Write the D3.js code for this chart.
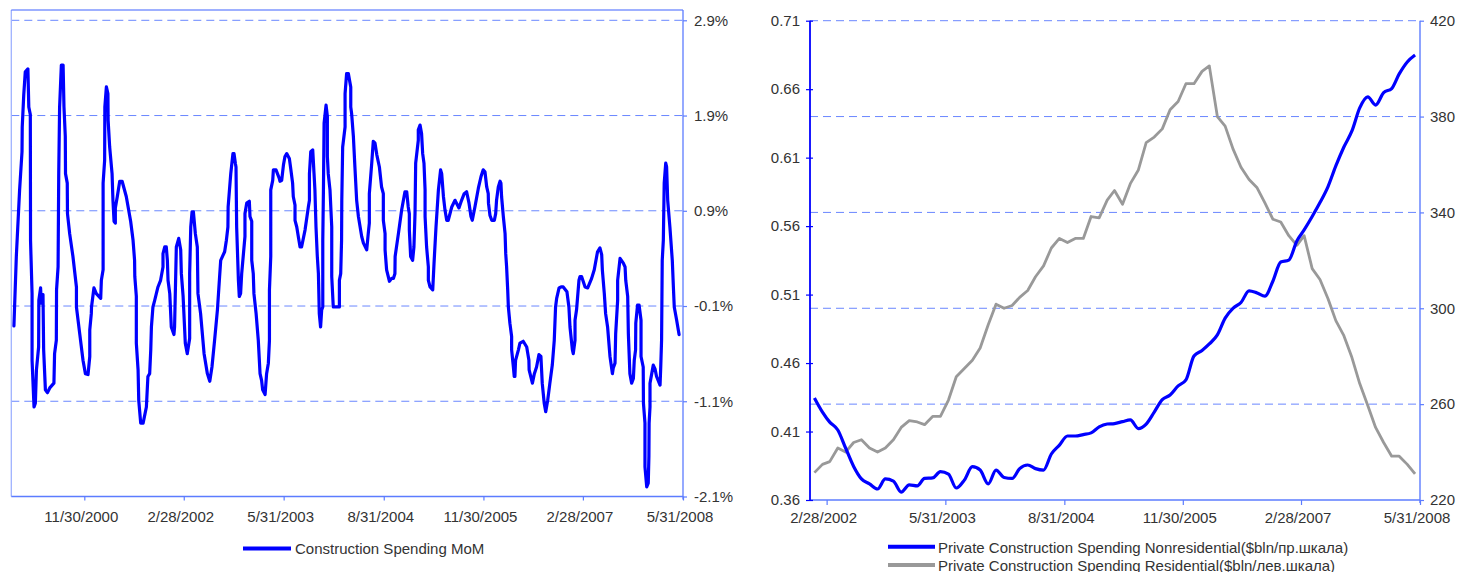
<!DOCTYPE html>
<html><head><meta charset="utf-8">
<script src="https://cdn.jsdelivr.net/npm/d3@7"></script>
<style>
body{margin:0;background:#fff}
svg{display:block}
text{font-family:"Liberation Sans",Arial,sans-serif;fill:#333;font-size:15px}
</style>
</head><body>
<svg id="c" width="1459" height="572"></svg>
<script>
// ---------- Left chart: Construction Spending MoM (%) ----------
const momStart = "2000-01-01";            // day 0 of the series
const momDays = [12,23,38,49,50,57,64,76,80,87,88,95,95,104,110,115,125,126,134,137,145,148,156,165,176,195,198,206,207,214,217,221,229,237,241,247,248,256,257,267,282,298,298,313,328,339,351,359,359,366,367,378,389,409,412,420,420,427,428,435,442,443,450,461,465,470,476,476,485,496,507,526,546,557,564,565,572,572,580,583,592,603,618,625,633,638,641,648,656,671,683,694,694,702,709,714,717,725,732,744,747,755,766,775,778,786,796,805,816,816,821,827,833,842,851,854,866,882,897,908,918,930,943,953,958,976,984,991,992,1004,1014,1019,1025,1028,1031,1039,1043,1049,1054,1069,1069,1077,1089,1092,1100,1100,1107,1110,1120,1130,1138,1145,1150,1161,1168,1176,1181,1181,1187,1187,1196,1199,1211,1226,1229,1237,1245,1252,1260,1272,1278,1287,1290,1298,1298,1306,1313,1321,1328,1344,1359,1364,1364,1370,1379,1385,1389,1394,1400,1405,1409,1415,1420,1425,1425,1428,1431,1440,1446,1446,1450,1458,1466,1466,1473,1501,1501,1507,1511,1512,1516,1527,1527,1534,1542,1553,1553,1557,1565,1572,1580,1588,1603,1611,1626,1633,1638,1638,1649,1656,1664,1672,1684,1694,1702,1702,1710,1710,1717,1730,1740,1748,1755,1756,1771,1786,1797,1801,1809,1816,1821,1821,1827,1836,1842,1847,1850,1862,1862,1870,1877,1882,1888,1893,1893,1900,1908,1908,1916,1928,1934,1943,1954,1964,1969,1977,1984,1992,1999,2015,2030,2037,2048,2060,2072,2083,2094,2103,2109,2121,2137,2149,2159,2167,2175,2182,2183,2190,2198,2210,2216,2220,2228,2236,2240,2243,2251,2259,2262,2266,2271,2274,2281,2289,2289,2297,2301,2304,2307,2320,2327,2342,2358,2368,2369,2384,2393,2403,2414,2423,2429,2438,2445,2454,2464,2475,2484,2490,2495,2506,2515,2525,2542,2551,2556,2567,2571,2579,2579,2586,2597,2602,2609,2625,2637,2655,2667,2678,2682,2693,2701,2704,2713,2719,2728,2739,2750,2754,2762,2765,2774,2774,2785,2800,2808,2811,2820,2823,2830,2838,2846,2850,2856,2857,2865,2872,2881,2881,2891,2892,2899,2899,2907,2914,2917,2918,2922,2922,2930,2937,2945,2952,2968,2971,2975,2978,2983,2987,2994,2998,3003,3013,3024,3029,3033,3044,3055];
const momValues = [-0.31,0.42,1.12,1.52,1.78,2.12,2.36,2.39,1.99,1.91,0.59,0.03,-0.67,-1.16,-1.12,-0.77,-0.53,-0.04,0.09,-0.07,0.02,-0.56,-0.98,-1.01,-0.96,-0.91,-0.60,-0.46,0.07,0.31,1.29,1.99,2.43,2.43,1.99,1.68,1.29,1.19,0.87,0.66,0.42,0.10,-0.11,-0.39,-0.67,-0.81,-0.82,-0.63,-0.35,-0.18,-0.11,0.09,0.03,-0.02,0.17,0.28,1.19,1.43,1.99,2.20,2.13,1.85,1.57,1.29,1.01,0.79,0.77,0.93,1.05,1.21,1.21,1.05,0.79,0.59,0.38,0.21,0.00,-0.49,-0.77,-1.09,-1.33,-1.33,-1.16,-0.84,-0.81,-0.56,-0.32,-0.11,-0.04,0.10,0.17,0.31,0.45,0.52,0.52,0.38,0.17,0.03,-0.32,-0.40,-0.32,0.52,0.61,0.49,0.24,0.00,-0.49,-0.60,-0.44,0.24,0.73,0.89,0.89,0.66,0.52,0.03,-0.18,-0.60,-0.81,-0.89,-0.74,-0.46,-0.14,0.21,0.38,0.47,0.59,0.73,0.94,1.29,1.50,1.50,1.40,1.36,0.73,0.17,0.00,0.03,0.24,0.63,0.87,0.98,1.00,0.84,0.79,0.38,0.24,0.03,-0.18,-0.46,-0.81,-0.88,-0.98,-1.03,-0.81,-0.70,-0.46,0.07,0.42,1.12,1.22,1.33,1.33,1.24,1.21,1.22,1.38,1.47,1.50,1.45,1.35,1.19,1.05,0.96,0.80,0.73,0.63,0.52,0.52,0.70,0.94,1.01,1.29,1.52,1.54,1.29,1.12,0.73,0.42,0.24,-0.18,-0.32,-0.14,-0.11,0.59,1.12,1.82,2.01,1.89,1.47,1.29,1.12,0.73,0.21,-0.11,-0.11,0.17,0.24,0.59,1.01,1.57,1.78,2.13,2.34,2.34,2.20,1.99,1.92,1.68,1.36,1.01,0.84,0.63,0.56,0.49,0.66,0.77,1.08,1.40,1.63,1.61,1.49,1.36,1.15,1.08,0.80,0.66,0.49,0.28,0.16,0.19,0.19,0.24,0.42,0.66,0.91,1.05,1.10,1.10,0.94,0.87,0.70,0.42,0.38,0.52,0.87,1.40,1.64,1.75,1.80,1.71,1.50,1.40,1.12,0.84,0.52,0.31,0.17,0.10,0.07,0.35,0.73,1.12,1.33,1.29,1.05,0.91,0.80,0.80,0.94,1.01,0.98,0.93,1.01,1.08,1.10,0.98,0.84,0.80,0.94,1.14,1.26,1.33,1.31,1.15,1.08,0.98,0.85,0.80,0.80,0.87,1.01,1.15,1.21,1.19,1.05,0.84,0.66,0.45,0.31,0.07,-0.11,-0.28,-0.42,-0.56,-0.74,-0.84,-0.84,-0.67,-0.56,-0.49,-0.47,-0.53,-0.67,-0.77,-0.91,-0.81,-0.74,-0.61,-0.63,-0.91,-1.12,-1.21,-1.09,-0.91,-0.72,-0.46,-0.11,-0.02,0.09,0.10,0.10,0.05,-0.11,-0.32,-0.56,-0.60,-0.46,-0.25,-0.14,0.17,0.21,0.21,0.10,0.09,0.19,0.28,0.42,0.47,0.51,0.44,0.28,0.03,-0.18,-0.32,-0.63,-0.81,-0.75,-0.70,-0.39,-0.04,0.17,0.40,0.35,0.31,0.17,0.00,-0.39,-0.81,-0.91,-0.86,-0.67,-0.56,-0.28,-0.09,-0.09,-0.25,-0.63,-0.74,-1.12,-1.33,-1.79,-2.00,-1.96,-1.68,-1.33,-1.16,-0.91,-0.81,-0.72,-0.76,-0.84,-0.93,-0.75,-0.46,0.38,0.59,1.19,1.40,1.36,1.01,0.73,0.38,0.10,-0.11,-0.25,-0.40];
const leftDomain = ["2000-01-01","2008-05-31"];
const leftXTicks = ["2000-11-30","2002-02-28","2003-05-31","2004-08-31","2005-11-30","2007-02-28","2008-05-31"];
const leftYTicks = [2.9,1.9,0.9,-0.1,-1.1,-2.1];
const leftLegend = "Construction Spending MoM";

// ---------- Right chart: Private construction spending ----------
const rightFirstMonth = "2002-01-12";
const nonresidential = [262.6,256.7,252.5,249.2,241.7,234.0,228.8,226.7,224.6,228.8,227.9,223.3,226.3,225.9,229.0,229.2,231.8,230.8,225.0,228.3,233.9,232.5,226.7,232.5,229.4,229.0,233.1,234.6,233.1,232.5,239.2,242.9,246.7,246.7,247.3,248.0,250.5,251.7,251.9,252.7,253.4,249.8,251.7,256.7,261.9,263.8,267.6,270.1,280.1,282.4,285.1,288.9,295.9,300.1,302.4,307.3,306.4,305.1,311.4,319.3,320.1,328.1,332.7,338.3,344.1,350.8,359.4,367.3,374.0,383.6,388.2,384.8,390.0,391.7,397.8,402.8,405.7];
const residential = [0.380,0.386,0.388,0.398,0.395,0.402,0.404,0.398,0.395,0.398,0.404,0.413,0.418,0.417,0.415,0.421,0.421,0.433,0.450,0.456,0.462,0.471,0.488,0.503,0.500,0.502,0.508,0.513,0.523,0.531,0.544,0.551,0.548,0.551,0.551,0.567,0.566,0.579,0.586,0.576,0.591,0.601,0.621,0.625,0.631,0.645,0.651,0.664,0.664,0.673,0.677,0.640,0.633,0.616,0.603,0.594,0.588,0.577,0.565,0.563,0.553,0.546,0.553,0.529,0.521,0.507,0.491,0.480,0.464,0.445,0.429,0.413,0.402,0.392,0.392,0.386,0.379];
const rightDomain = ["2001-12-26","2008-05-31"];
const rightXTicks = ["2002-02-28","2003-05-31","2004-08-31","2005-11-30","2007-02-28","2008-05-31"];
const rightLeftTicks = [0.36,0.41,0.46,0.51,0.56,0.61,0.66,0.71];
const rightRightTicks = [220,260,300,340,380,420];
const rightLegend = ["Private Construction Spending Nonresidential($bln/пр.шкала)","Private Construction Spending Residential($bln/лев.шкала)"];

// ---------- drawing ----------
const parse = d3.timeParse("%Y-%m-%d");
const fmtDate = d => `${d.getMonth()+1}/${d.getDate()}/${d.getFullYear()}`;
const svg = d3.select("#c");
const GRID = "#6a87ff", AXIS = "#5c7cff", BLUE = "#0000ff", GREY = "#999999";

function grid(g, x0, x1, ys){
  g.selectAll(null).data(ys).join("line")
    .attr("x1", x0).attr("x2", x1).attr("y1", d=>d).attr("y2", d=>d)
    .attr("stroke", GRID).attr("stroke-width", 1).attr("stroke-dasharray", "8,5");
}
function styleAxis(g, color){
  g.select(".domain").remove();
  g.selectAll(".tick line").attr("stroke", color).attr("stroke-width", 1.2);
  g.selectAll(".tick text").attr("fill", "#333").style("font-size","15px")
    .attr("font-family", null);
}

// Left chart
{
  const L = {l:11.3, r:683, t:20.3, b:496.5, frameTop:10};
  const start = parse(momStart);
  const x = d3.scaleTime().domain(leftDomain.map(parse)).range([L.l, L.r]);
  const y = d3.scaleLinear().domain([-2.1, 2.9]).range([L.b, L.t]);
  const g = svg.append("g");
  grid(g, L.l, L.r, leftYTicks.filter(v => v > -2.1).map(y));
  // frame
  g.append("line").attr("x1",L.l).attr("x2",L.l).attr("y1",L.frameTop).attr("y2",L.b).attr("stroke","#9fb2ff").attr("stroke-width",1.3);
  g.append("line").attr("x1",L.l).attr("x2",L.r).attr("y1",L.frameTop).attr("y2",L.frameTop).attr("stroke","#3f63ff").attr("stroke-width",1.2);
  g.append("line").attr("x1",L.r).attr("x2",L.r).attr("y1",L.frameTop).attr("y2",L.b+3).attr("stroke",AXIS).attr("stroke-width",1.3);
  g.append("line").attr("x1",L.l).attr("x2",L.r).attr("y1",L.b).attr("y2",L.b).attr("stroke",AXIS).attr("stroke-width",1.3);

  const ay = g.append("g").attr("transform",`translate(${L.r},0)`)
    .call(d3.axisRight(y).tickValues(leftYTicks).tickSize(4).tickPadding(7).tickFormat(d => d.toFixed(1) + "%"));
  styleAxis(ay, AXIS);
  const ax = g.append("g").attr("transform",`translate(0,${L.b})`)
    .call(d3.axisBottom(x).tickValues(leftXTicks.map(parse)).tickSize(4).tickPadding(11).tickFormat(fmtDate));
  styleAxis(ax, AXIS);
  ax.selectAll(".tick text").attr("dx", -3.5);

  const pts = momDays.map((d,i) => [new Date(start.getTime() + d*86400000), momValues[i]]);
  g.append("path").datum(pts)
    .attr("d", d3.line().x(d=>x(d[0])).y(d=>y(d[1])))
    .attr("fill","none").attr("stroke",BLUE).attr("stroke-width",3.2)
    .attr("stroke-linejoin","round").attr("stroke-linecap","round");

  // legend
  g.append("line").attr("x1",243).attr("x2",291).attr("y1",548.5).attr("y2",548.5).attr("stroke",BLUE).attr("stroke-width",4);
  g.append("text").attr("x",295).attr("y",553.5).text(leftLegend);
}

// Right chart
{
  const R = {l:810, r:1420, t:20.7, b:500};
  const x = d3.scaleTime().domain(rightDomain.map(parse)).range([R.l, R.r]);
  const yL = d3.scaleLinear().domain([0.36, 0.71]).range([R.b, R.t]);
  const yR = d3.scaleLinear().domain([220, 420]).range([R.b, R.t]);
  const months = d3.range(nonresidential.length).map(i => d3.timeMonth.offset(parse(rightFirstMonth), i));
  const g = svg.append("g");
  grid(g, R.l, R.r, rightRightTicks.filter(v => v > 220).map(yR));

  // axes lines
  g.append("line").attr("x1",R.l).attr("x2",R.r).attr("y1",R.b).attr("y2",R.b).attr("stroke",AXIS).attr("stroke-width",1.6);
  g.append("line").attr("x1",R.r).attr("x2",R.r).attr("y1",R.t).attr("y2",R.b+3).attr("stroke",AXIS).attr("stroke-width",1.4);

  const aL = g.append("g").attr("transform",`translate(${R.l},0)`)
    .call(d3.axisLeft(yL).tickValues(rightLeftTicks).tickSize(4).tickPadding(6).tickFormat(d3.format(".2f")));
  styleAxis(aL, BLUE);
  aL.selectAll(".tick line").attr("x2",-4).attr("x1",3);
  g.append("line").attr("x1",R.l).attr("x2",R.l).attr("y1",R.t).attr("y2",R.b).attr("stroke",BLUE).attr("stroke-width",1.8);

  const aR = g.append("g").attr("transform",`translate(${R.r},0)`)
    .call(d3.axisRight(yR).tickValues(rightRightTicks).tickSize(4).tickPadding(6));
  styleAxis(aR, AXIS);

  const aB = g.append("g").attr("transform",`translate(0,${R.b})`)
    .call(d3.axisBottom(x).tickValues(rightXTicks.map(parse)).tickSize(5).tickPadding(7.5).tickFormat(fmtDate));
  styleAxis(aB, AXIS);
  aB.selectAll(".tick text").attr("dx", -3.5);

  g.append("path").datum(residential)
    .attr("d", d3.line().x((d,i)=>x(months[i])).y(d=>yL(d)))
    .attr("fill","none").attr("stroke",GREY).attr("stroke-width",2.8).attr("stroke-linejoin","round");
  g.append("path").datum(nonresidential)
    .attr("d", d3.line().curve(d3.curveMonotoneX).x((d,i)=>x(months[i])).y(d=>yR(d)))
    .attr("fill","none").attr("stroke",BLUE).attr("stroke-width",3.2).attr("stroke-linejoin","round");

  // legend
  const lg = g.append("g");
  [[BLUE,546.7,552.5],[GREY,565,570.5]].forEach((s,i) => {
    lg.append("line").attr("x1",888).attr("x2",935).attr("y1",s[1]).attr("y2",s[1]).attr("stroke",s[0]).attr("stroke-width",4);
    lg.append("text").attr("x",938).attr("y",s[2]).text(rightLegend[i]);
  });
}
</script>
</body></html>
